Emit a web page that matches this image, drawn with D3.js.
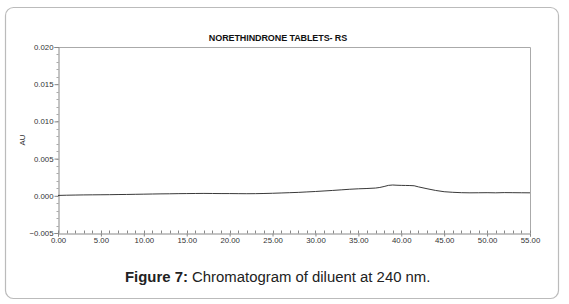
<!DOCTYPE html>
<html>
<head>
<meta charset="utf-8">
<script src="https://cdn.jsdelivr.net/npm/d3@7"></script>
<style>
  body { margin: 0; background: #fff; }
  svg { display: block; font-family: "Liberation Sans", Arial, sans-serif; }
</style>
</head>
<body>
<svg width="569" height="304"></svg>
<script>
// retention time (min) and absorbance (AU)
const times = [0, 1, 2, 3, 4, 5, 6, 7, 8, 9, 10, 11, 12, 13, 14, 15, 16, 17, 18, 19,
    20, 21, 22, 23, 24, 25, 26, 27, 28, 29, 30, 31, 32, 33, 34, 35, 36, 37, 37.5, 38,
    38.5, 39, 39.5, 40, 40.5, 41, 41.5, 42, 43, 44, 45, 46, 47, 48, 49, 50, 51, 52, 53, 54, 55];
const absorb = [0.00005, 0.00008, 0.0001, 0.00012, 0.00013, 0.00014, 0.00015, 0.00017, 0.00018, 0.0002,
    0.00022, 0.00024, 0.00026, 0.00027, 0.00029, 0.0003, 0.00031, 0.00032, 0.00031, 0.0003,
    0.0003, 0.00029, 0.00028, 0.00029, 0.00031, 0.00034, 0.00038, 0.00042, 0.00046, 0.00052,
    0.00058, 0.00065, 0.00072, 0.0008, 0.00088, 0.00094, 0.00098, 0.00104, 0.00112, 0.00125,
    0.0014, 0.00145, 0.00142, 0.0014, 0.00139, 0.00138, 0.00135, 0.0012, 0.00095, 0.00072,
    0.00055, 0.00047, 0.00042, 0.0004, 0.00041, 0.00042, 0.0004, 0.00043, 0.00042, 0.00041, 0.0004];
const xTicks = [0, 5, 10, 15, 20, 25, 30, 35, 40, 45, 50, 55];
const yTicks = [-0.005, 0, 0.005, 0.01, 0.015, 0.02];

const svg = d3.select('svg');
const plotL = 58, plotR = 530, plotT = 47, plotB = 233;

// outer rounded frame
svg.append('rect')
    .attr('x', 5.5).attr('y', 7.5)
    .attr('width', 553).attr('height', 291)
    .attr('rx', 8)
    .attr('fill', 'none')
    .attr('stroke', '#bbb')
    .attr('stroke-width', 1.2);

const x = d3.scaleLinear().domain([0, 55]).range([plotL, plotR]);
const y = d3.scaleLinear().domain([-0.005, 0.02]).range([plotB, plotT]);

// plot box (top & right)
svg.append('path')
    .attr('d', `M${plotL},${plotT + 0.5} H${plotR + 0.5} V${plotB}`)
    .attr('fill', 'none')
    .attr('stroke', '#aaa');

// minor ticks
const xMinor = d3.range(0, 55.01, 1);
const yMinor = d3.range(-0.005, 0.0201, 0.001);

const gx = svg.append('g').attr('transform', `translate(0,${plotB + 0.5})`);
gx.selectAll('line.minor').data(xMinor).enter().append('line')
    .attr('x1', d => Math.round(x(d)) + 0.5).attr('x2', d => Math.round(x(d)) + 0.5)
    .attr('y1', 0).attr('y2', -3)
    .attr('stroke', '#888');
gx.call(d3.axisBottom(x).tickValues(xTicks).tickFormat(d3.format('.2f')).tickSize(3))
    .call(g => g.select('.domain').attr('stroke', '#888'))
    .call(g => g.selectAll('.tick line').attr('stroke', '#888'))
    .call(g => g.selectAll('text').attr('font-size', 7.8).attr('fill', '#333').attr('dy', '0.5em'));

const gy = svg.append('g').attr('transform', `translate(${plotL + 0.5},0)`);
gy.selectAll('line.minor').data(yMinor).enter().append('line')
    .attr('y1', d => Math.round(y(d)) + 0.5).attr('y2', d => Math.round(y(d)) + 0.5)
    .attr('x1', 0).attr('x2', -2)
    .attr('stroke', '#aaa');
gy.call(d3.axisLeft(y).tickValues(yTicks).tickFormat(d3.format('.3f')).tickSize(4).tickPadding(1))
    .call(g => g.select('.domain').attr('stroke', '#888'))
    .call(g => g.selectAll('.tick line').attr('stroke', '#888'))
    .call(g => g.selectAll('text').attr('font-size', 7.8).attr('fill', '#333'));

// trace
const pts = times.map((t, i) => [t, absorb[i]]);
svg.append('path')
    .datum(pts)
    .attr('d', d3.line().x(d => x(d[0])).y(d => y(d[1])))
    .attr('fill', 'none')
    .attr('stroke', '#222')
    .attr('stroke-width', 0.9);

// titles
svg.append('text')
    .attr('x', 278).attr('y', 40.5)
    .attr('text-anchor', 'middle')
    .attr('font-size', 9)
    .attr('font-weight', 'bold')
    .attr('letter-spacing', -0.1)
    .attr('fill', '#111')
    .text('NORETHINDRONE TABLETS- RS');

svg.append('text')
    .attr('transform', 'translate(25,140) rotate(-90)')
    .attr('text-anchor', 'middle')
    .attr('font-size', 7.8)
    .attr('fill', '#333')
    .text('AU');

const cap = svg.append('text')
    .attr('x', 125).attr('y', 282)
    .attr('font-size', 14.9)
    .attr('fill', '#222');
cap.append('tspan').attr('font-weight', 'bold').text('Figure 7:');
cap.append('tspan').text(' Chromatogram of diluent at 240 nm.');
</script>
</body>
</html>
